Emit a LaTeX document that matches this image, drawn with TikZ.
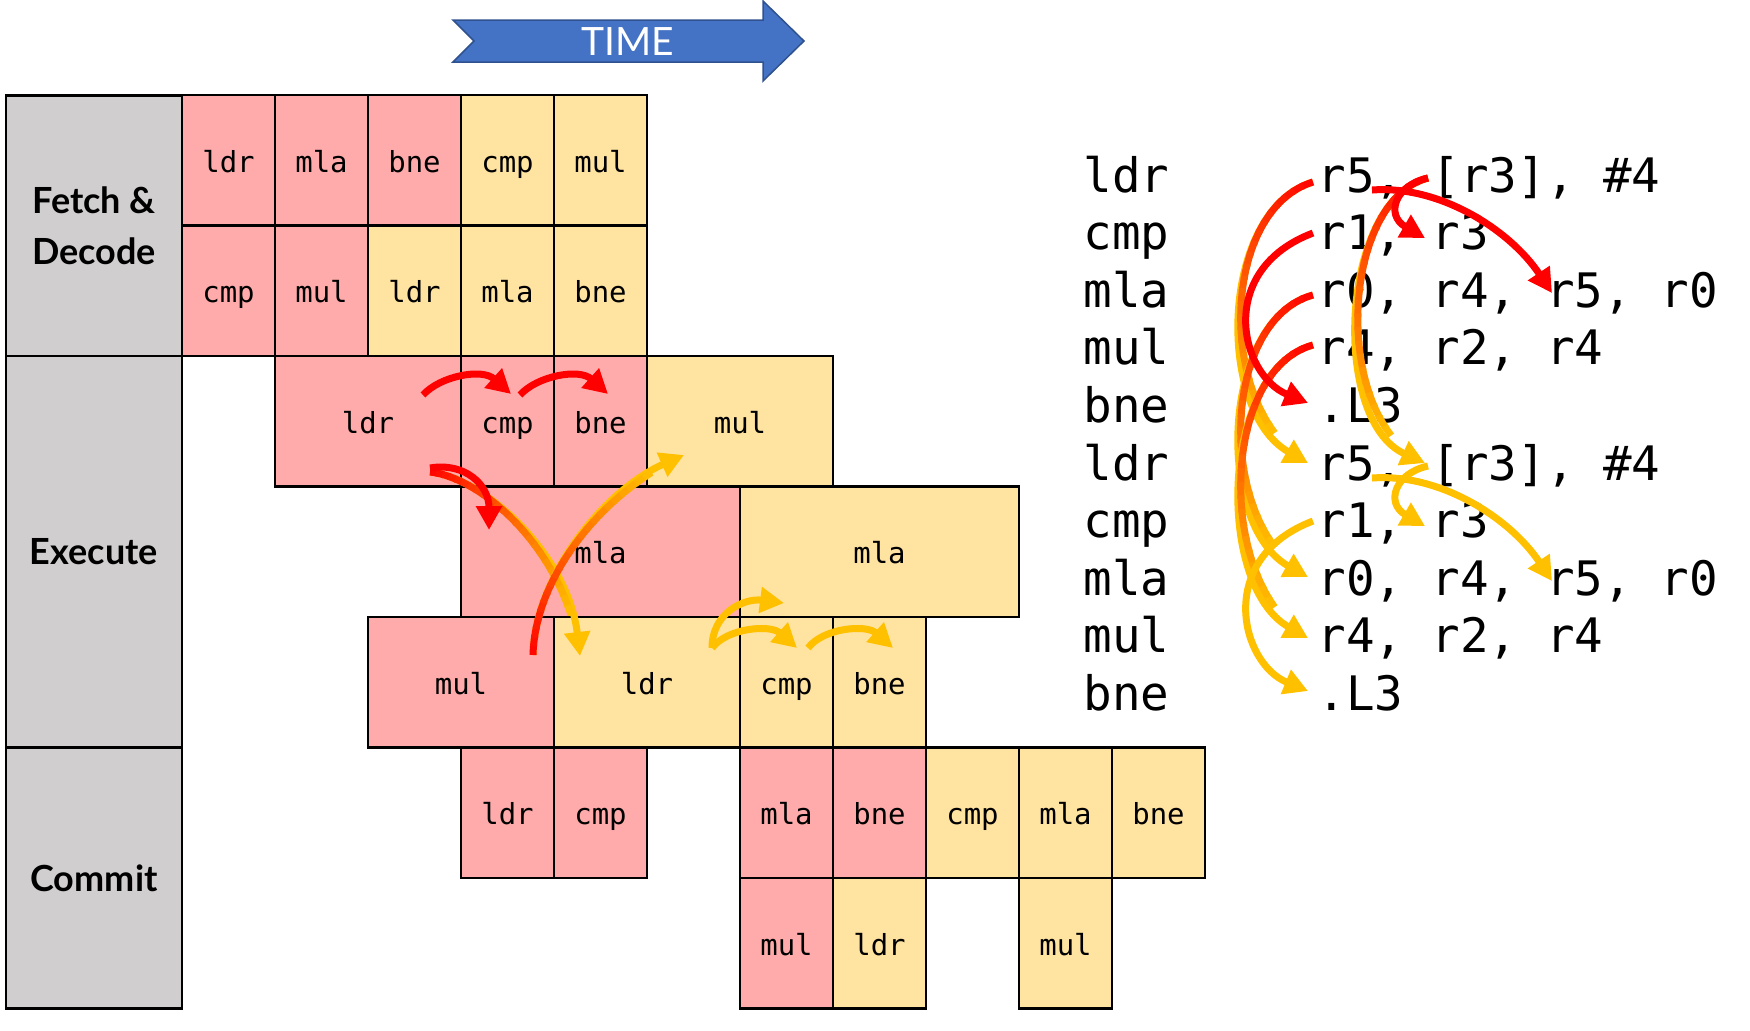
\documentclass[tikz,border=0pt]{standalone}
\usepackage{fontspec}
\setmainfont{Lato}
\newfontfamily\monof{DejaVu Sans Mono}
\usetikzlibrary{arrows.meta}
\definecolor{cellred}{HTML}{FFABAB}
\definecolor{cellyel}{HTML}{FFE3A1}
\definecolor{stagegray}{HTML}{D0CECE}
\definecolor{timeblue}{HTML}{4472C4}
\definecolor{timeedge}{HTML}{2F528F}
\definecolor{arrred}{HTML}{FF0000}
\definecolor{arrgold}{HTML}{FFC000}
\tikzset{
 cellbase/.style={draw=black, line width=1.25pt, inner sep=0pt, text height=12pt, text depth=0pt, font=\monof\fontsize{14.5}{17}\selectfont},
 cellr/.style={cellbase, fill=cellred},
 celly/.style={cellbase, fill=cellyel},
 stagebox/.style={draw=black, line width=1.25pt, fill=stagegray, minimum width=88pt, inner sep=0pt, align=center, font=\bfseries\fontsize{18}{25.5}\selectfont},
 codetxt/.style={anchor=base west, inner sep=0pt, font=\monof\fontsize{23.75}{28}\selectfont\frenchspacing},
 depline/.style={line width=3.5pt, -{Triangle[length=12pt,width=12.5pt]}},
 depred/.style={depline, draw=arrred},
 depgold/.style={depline, draw=arrgold},
}
% cell: name, style, first col, last col, row, text
\newcommand\cell[6]{%
  \pgfmathsetmacro\cw{(#4-#3+1)*46.5}%
  \pgfmathsetmacro\cx{182+93*(#3+(#4-#3+1)/2)}%
  \pgfmathsetmacro\cy{95+130.5*(#5+0.5)}%
  \node[#2, minimum width=\cw pt, minimum height=65.25pt] (#1) at (\cx,\cy) {#6};}
\newcommand\codeline[4]{%
  \node[codetxt] (m#1) at (1083,#2) {#3};
  \node[codetxt] (o#1) at (1317,#2) {#4};}
% gradient arrow: start colour, end colour, four coordinate names
\newcommand\gradarrow[6]{%
  \draw[depline, draw=#2] (#3) .. controls (#4) and (#5) .. (#6);
  \foreach \k in {0,...,23}{%
    \pgfmathsetmacro\ta{0.86*\k/24}%
    \pgfmathsetmacro\tb{min(0.86,0.86*(\k+1)/24+0.01)}%
    \pgfmathtruncatemacro\pc{100-100*(\k+0.5)/24}%
    \begin{pgfscope}%
      \colorlet{segcol}{#1!\pc!#2}%
      \pgfsetlinewidth{3.5pt}%
      \pgfsetstrokecolor{segcol}%
      \pgfpathcurvebetweentime{\ta}{\tb}{\pgfpointanchor{#3}{center}}{\pgfpointanchor{#4}{center}}{\pgfpointanchor{#5}{center}}{\pgfpointanchor{#6}{center}}%
      \pgfusepath{stroke}%
    \end{pgfscope}%
  }}
\begin{document}
\begin{tikzpicture}[x=0.5pt, y=-0.5pt]
\useasboundingbox (0,0) rectangle (1750,1030);

% TIME arrow
\draw[fill=timeblue, draw=timeedge, line width=0.75pt]
  (453,20) -- (763,20) -- (763,1) -- (804,41) -- (763,81) -- (763,62) -- (453,62) -- (474,41) -- cycle;
\node[text=white, font=\fontsize{19.5}{20}\selectfont] (time) at (628,42) {TIME};

% stage boxes
\node[stagebox, minimum height=130.5pt] (fd) at (94,225.75) {Fetch \&\\Decode};
\node[stagebox, minimum height=195.75pt] (ex) at (94,551.75) {Execute};
\node[stagebox, minimum height=130.5pt] (cm) at (94,878) {Commit};

% fetch & decode
\cell{f0a}{cellr}{0}{0}{0}{ldr}
\cell{f0b}{cellr}{1}{1}{0}{mla}
\cell{f0c}{cellr}{2}{2}{0}{bne}
\cell{f0d}{celly}{3}{3}{0}{cmp}
\cell{f0e}{celly}{4}{4}{0}{mul}
\cell{f1a}{cellr}{0}{0}{1}{cmp}
\cell{f1b}{cellr}{1}{1}{1}{mul}
\cell{f1c}{celly}{2}{2}{1}{ldr}
\cell{f1d}{celly}{3}{3}{1}{mla}
\cell{f1e}{celly}{4}{4}{1}{bne}
% execute
\cell{e2a}{cellr}{1}{2}{2}{ldr}
\cell{e2b}{cellr}{3}{3}{2}{cmp}
\cell{e2c}{cellr}{4}{4}{2}{bne}
\cell{e2d}{celly}{5}{6}{2}{mul}
\cell{e3a}{cellr}{3}{5}{3}{mla}
\cell{e3b}{celly}{6}{8}{3}{mla}
\cell{e4a}{cellr}{2}{3}{4}{mul}
\cell{e4b}{celly}{4}{5}{4}{ldr}
\cell{e4c}{celly}{6}{6}{4}{cmp}
\cell{e4d}{celly}{7}{7}{4}{bne}
% commit
\cell{c5a}{cellr}{3}{3}{5}{ldr}
\cell{c5b}{cellr}{4}{4}{5}{cmp}
\cell{c5c}{cellr}{6}{6}{5}{mla}
\cell{c5d}{cellr}{7}{7}{5}{bne}
\cell{c5e}{celly}{8}{8}{5}{cmp}
\cell{c5f}{celly}{9}{9}{5}{mla}
\cell{c5g}{celly}{10}{10}{5}{bne}
\cell{c6a}{cellr}{6}{6}{6}{mul}
\cell{c6b}{celly}{7}{7}{6}{ldr}
\cell{c6c}{celly}{9}{9}{6}{mul}

% code listing
\codeline{1}{192}{ldr}{r5, [r3], \#4}
\codeline{2}{249.5}{cmp}{r1, r3}
\codeline{3}{307}{mla}{r0, r4, r5, r0}
\codeline{4}{364.5}{mul}{r4, r2, r4}
\codeline{5}{422}{bne}{.L3}
\codeline{6}{480}{ldr}{r5, [r3], \#4}
\codeline{7}{537.5}{cmp}{r1, r3}
\codeline{8}{595}{mla}{r0, r4, r5, r0}
\codeline{9}{652.5}{mul}{r4, r2, r4}
\codeline{10}{710}{bne}{.L3}

% ---- arrow coordinates: left panel
\coordinate (a1s) at (423,395); \coordinate (a1p) at (440,376); \coordinate (a1q) at (482,368); \coordinate (a1e) at (511,394);
\coordinate (a2s) at (520,395); \coordinate (a2p) at (537,376); \coordinate (a2q) at (579,368); \coordinate (a2e) at (608,394);
\coordinate (a3s) at (430,468); \coordinate (a3p) at (465,462); \coordinate (a3q) at (489,485); \coordinate (a3e) at (489,530);
\coordinate (a4s) at (430,472); \coordinate (a4p) at (485,478); \coordinate (a4q) at (568,555); \coordinate (a4e) at (580,656);
\coordinate (a5s) at (533,655); \coordinate (a5p) at (535,575); \coordinate (a5q) at (605,490); \coordinate (a5e) at (684,455);
\coordinate (a6s) at (712,648); \coordinate (a6p) at (727,628); \coordinate (a6q) at (770,624); \coordinate (a6e) at (797,648);
\coordinate (a7s) at (808,648); \coordinate (a7p) at (823,628); \coordinate (a7q) at (866,624); \coordinate (a7e) at (893,648);
\coordinate (a8s) at (712,648); \coordinate (a8p) at (712,612); \coordinate (a8q) at (745,598); \coordinate (a8e) at (784,603);

\gradarrow{arrred}{arrgold}{a4s}{a4p}{a4q}{a4e}
\gradarrow{arrred}{arrgold}{a5s}{a5p}{a5q}{a5e}
\draw[depred] (a1s) .. controls (a1p) and (a1q) .. (a1e);
\draw[depred] (a2s) .. controls (a2p) and (a2q) .. (a2e);
\draw[depred] (a3s) .. controls (a3p) and (a3q) .. (a3e);
\draw[depgold] (a6s) .. controls (a6p) and (a6q) .. (a6e);
\draw[depgold] (a7s) .. controls (a7p) and (a7q) .. (a7e);
\draw[depgold] (a8s) .. controls (a8p) and (a8q) .. (a8e);

% ---- arrow coordinates: right panel
\coordinate (g1s) at (1428,178); \coordinate (g1p) at (1340,200); \coordinate (g1q) at (1330,420); \coordinate (g1e) at (1425,463);
\coordinate (g2s) at (1313,182); \coordinate (g2p) at (1220,210); \coordinate (g2q) at (1215,410); \coordinate (g2e) at (1308,463);
\coordinate (g3s) at (1313,295); \coordinate (g3p) at (1220,320); \coordinate (g3q) at (1215,525); \coordinate (g3e) at (1308,577);
\coordinate (g4s) at (1313,345); \coordinate (g4p) at (1220,370); \coordinate (g4q) at (1215,585); \coordinate (g4e) at (1308,638);
\gradarrow{arrred}{arrgold}{g2s}{g2p}{g2q}{g2e}
\gradarrow{arrred}{arrgold}{g3s}{g3p}{g3q}{g3e}
\gradarrow{arrred}{arrgold}{g4s}{g4p}{g4q}{g4e}
\gradarrow{arrred}{arrgold}{g1s}{g1p}{g1q}{g1e}

\coordinate (r1s) at (1372,190); \coordinate (r1p) at (1440,185); \coordinate (r1q) at (1510,230); \coordinate (r1e) at (1552,293);
\coordinate (r2s) at (1428,178); \coordinate (r2p) at (1395,185); \coordinate (r2q) at (1385,215); \coordinate (r2e) at (1425,238);
\coordinate (r3s) at (1313,233); \coordinate (r3p) at (1215,270); \coordinate (r3q) at (1240,375); \coordinate (r3e) at (1308,403);
\draw[depred] (r3s) .. controls (r3p) and (r3q) .. (r3e);
\draw[depred] (r1s) .. controls (r1p) and (r1q) .. (r1e);
\draw[depred] (r2s) .. controls (r2p) and (r2q) .. (r2e);

\coordinate (y1s) at (1372,478); \coordinate (y1p) at (1440,473); \coordinate (y1q) at (1510,518); \coordinate (y1e) at (1552,581);
\coordinate (y2s) at (1428,466); \coordinate (y2p) at (1395,473); \coordinate (y2q) at (1385,503); \coordinate (y2e) at (1425,526);
\coordinate (y3s) at (1313,521); \coordinate (y3p) at (1215,558); \coordinate (y3q) at (1240,663); \coordinate (y3e) at (1308,691);
\draw[depgold] (y3s) .. controls (y3p) and (y3q) .. (y3e);
\draw[depgold] (y1s) .. controls (y1p) and (y1q) .. (y1e);
\draw[depgold] (y2s) .. controls (y2p) and (y2q) .. (y2e);
\end{tikzpicture}
\end{document}
